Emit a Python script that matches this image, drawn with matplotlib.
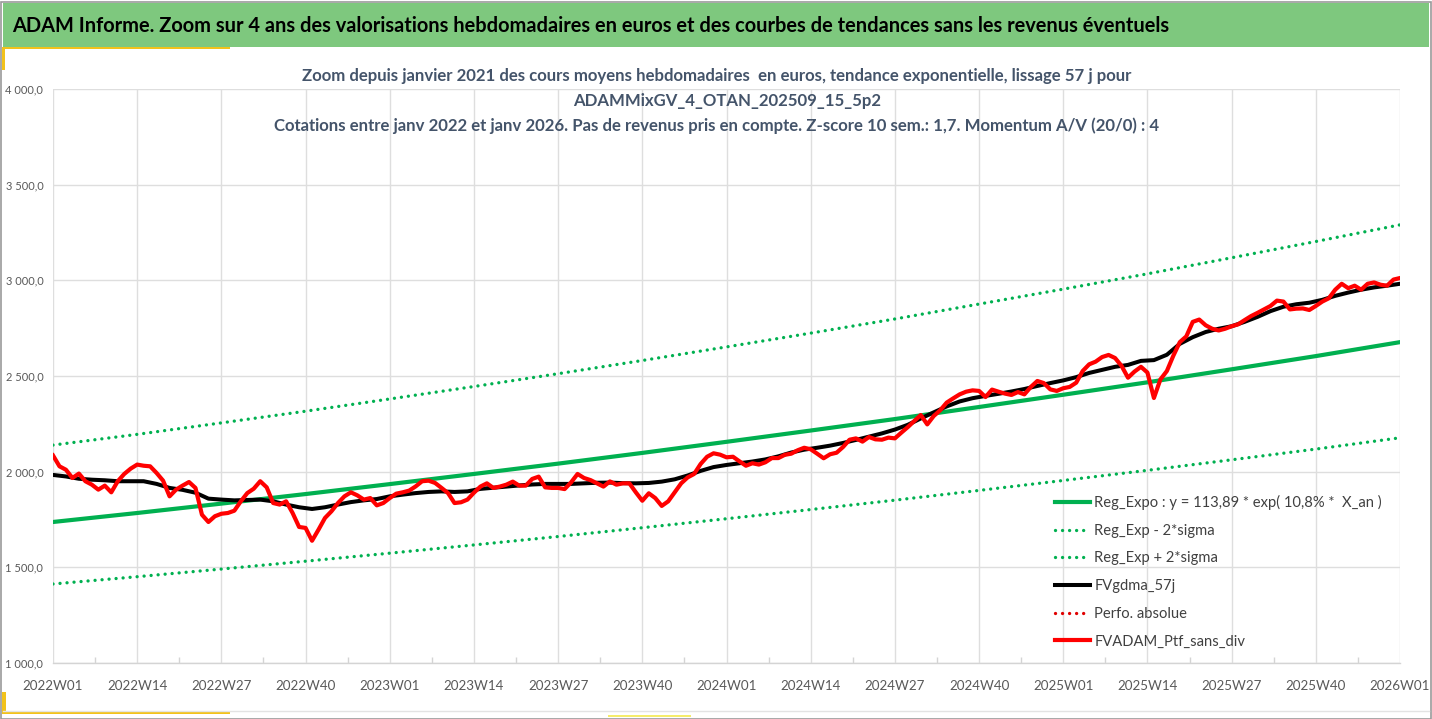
import matplotlib
matplotlib.use("Agg")
import matplotlib.pyplot as plt
from matplotlib.patches import Rectangle
from matplotlib.lines import Line2D
from matplotlib.ticker import FixedLocator, FuncFormatter

plt.rcParams['font.family'] = ['Lato', 'DejaVu Sans']

# [ DATA ]
#=====================================================================
weeks = [f"{2022 + i // 52}W{i % 52 + 1:02d}" for i in range(209)]

# FVADAM_Ptf_sans_div, one value per week (2022W01 .. 2026W01)
ptf_sans_div = [
    2085, 2028, 2010, 1967, 1990, 1950, 1932, 1906, 1927, 1892,
    1950, 1988, 2016, 2037, 2031, 2028, 1993, 1953, 1871, 1906,
    1927, 1946, 1915, 1775, 1737, 1767, 1780, 1784, 1796, 1845,
    1888, 1911, 1950, 1918, 1836, 1828, 1845, 1784, 1711, 1706,
    1639, 1697, 1758, 1793, 1836, 1871, 1892, 1876, 1854, 1862,
    1824, 1836, 1862, 1885, 1892, 1901, 1923, 1950, 1953, 1941,
    1915, 1888, 1836, 1840, 1854, 1890, 1922, 1939, 1915, 1922,
    1932, 1948, 1927, 1927, 1962, 1974, 1918, 1915, 1915, 1909,
    1944, 1988, 1967, 1956, 1939, 1922, 1949, 1932, 1939, 1939,
    1892, 1848, 1887, 1862, 1821, 1845, 1892, 1939, 1970, 1988,
    2040, 2078, 2096, 2089, 2075, 2078, 2054, 2031, 2044, 2037,
    2049, 2071, 2071, 2088, 2094, 2112, 2125, 2117, 2094, 2070,
    2091, 2099, 2129, 2167, 2174, 2157, 2181, 2169, 2167, 2178,
    2174, 2204, 2233, 2265, 2296, 2247, 2291, 2321, 2361, 2383,
    2404, 2418, 2425, 2422, 2390, 2429, 2418, 2408, 2401, 2416,
    2404, 2443, 2474, 2463, 2430, 2422, 2436, 2443, 2465, 2526,
    2561, 2575, 2599, 2610, 2594, 2553, 2491, 2523, 2548, 2518,
    2385, 2482, 2526, 2606, 2677, 2707, 2783, 2795, 2765, 2747,
    2738, 2747, 2760, 2770, 2792, 2813, 2830, 2848, 2866, 2894,
    2889, 2848, 2852, 2853, 2845, 2866, 2889, 2906, 2951, 2982,
    2959, 2972, 2951, 2982, 2989, 2977, 2972, 3004, 3012,
]

# FVgdma_57j, read every second week
gdma_57j = [
    1983, 1975, 1963, 1958, 1955, 1950, 1950, 1950, 1936, 1915,
    1905, 1890, 1859, 1854, 1850, 1852, 1854, 1845, 1828, 1814,
    1805, 1814, 1828, 1841, 1850, 1857, 1871, 1880, 1888, 1894,
    1897, 1894, 1897, 1910, 1916, 1922, 1928, 1933, 1936, 1936,
    1936, 1939, 1942, 1943, 1940, 1939, 1941, 1948, 1960, 1980,
    2004, 2024, 2035, 2044, 2053, 2064, 2080, 2100, 2115, 2125,
    2136, 2150, 2166, 2183, 2200, 2220, 2245, 2278, 2310, 2341,
    2367, 2384, 2396, 2407, 2419, 2432, 2448, 2463, 2477, 2494,
    2516, 2532, 2548, 2558, 2579, 2583, 2611, 2668, 2703, 2730,
    2747, 2760, 2783, 2809, 2839, 2862, 2875, 2883, 2898, 2919,
    2936, 2951, 2963, 2972, 2982,
]

# regression curves, read at every labelled week (every 13 weeks)
reg_expo = [1737, 1784, 1833, 1883, 1935, 1988, 2042, 2098, 2156,
            2215, 2275, 2338, 2402, 2467, 2535, 2604, 2677]
reg_minus = [1413, 1451, 1491, 1532, 1574, 1617, 1661, 1707, 1754,
             1802, 1851, 1902, 1954, 2007, 2062, 2118, 2177]
reg_plus = [2139, 2195, 2255, 2316, 2380, 2445, 2512, 2581, 2652,
            2724, 2798, 2876, 2954, 3034, 3118, 3203, 3290]

x_all = list(range(len(weeks)))
x_gdma = x_all[::2]
x_reg = x_all[::13]

# [ FIGURE ]
#=====================================================================
W, H = 1432, 719
fig = plt.figure(figsize=(W / 100, H / 100), dpi=100)
fig.patch.set_facecolor("white")

# frame + banner
fig.patches.append(Rectangle((0.5 / W, 0.5 / H), 1 - 2 / W, 1 - 2 / H, transform=fig.transFigure,
                             fill=False, edgecolor="#9a9a9a", linewidth=1.2))
fig.patches.append(Rectangle((3 / W, 1 - 47 / H), 1 - 6 / W, 44 / H, transform=fig.transFigure,
                             facecolor="#7ec87e", edgecolor="none"))
fig.patches.append(Rectangle((2 / W, 1 - 49 / H), 228 / W, 2.5 / H, transform=fig.transFigure,
                             facecolor="#f2c21b", edgecolor="none"))
fig.patches.append(Rectangle((2 / W, 1 - 70 / H), 3 / W, 22 / H, transform=fig.transFigure,
                             facecolor="#f2c21b", edgecolor="none"))
fig.patches.append(Rectangle((2 / W, 5 / H), 228 / W, 3 / H, transform=fig.transFigure,
                             facecolor="#f2c21b", edgecolor="none"))
fig.patches.append(Rectangle((2 / W, 5 / H), 4 / W, 22 / H, transform=fig.transFigure,
                             facecolor="#f2c21b", edgecolor="none"))
fig.patches.append(Rectangle((608 / W, 2 / H), 83 / W, 2 / H, transform=fig.transFigure,
                             facecolor="#f5ec6a", edgecolor="none"))
fig.lines.append(Line2D([3 / W, 1 - 3 / W], [8 / H, 8 / H], transform=fig.transFigure,
                        color="#e3e3e3", linewidth=1))

fig.text(12 / W, 1 - 26 / H,
         "ADAM Informe. Zoom sur 4 ans des valorisations hebdomadaires en euros et des courbes de tendances sans les revenus éventuels",
         ha="left", va="center", fontsize=14.4, fontweight="bold", color="black")

sub_color = "#44546a"
fig.text(717 / W, 1 - 76 / H,
         "Zoom depuis janvier 2021 des cours moyens hebdomadaires  en euros, tendance exponentielle, lissage 57 j pour",
         ha="center", va="center", fontsize=12.1, fontweight="bold", color=sub_color)
fig.text(727 / W, 1 - 101 / H, "ADAMMixGV_4_OTAN_202509_15_5p2",
         ha="center", va="center", fontsize=12.1, fontweight="bold", color=sub_color)
fig.text(717 / W, 1 - 126 / H,
         "Cotations entre janv 2022 et janv 2026. Pas de revenus pris en compte. Z-score 10 sem.: 1,7. Momentum A/V (20/0) : 4",
         ha="center", va="center", fontsize=12.1, fontweight="bold", color=sub_color)

# [ AXES ]
#=====================================================================
ax = fig.add_axes([53 / W, 1 - 663 / H, (1400 - 53) / W, (663 - 89) / H])
ax.set_facecolor("none")

green = "#00b050"
ax.plot(x_reg, reg_expo, color=green, linewidth=3.0, label="Reg_Expo : y = 113,89 * exp( 10,8% *  X_an )")
ax.plot(x_reg, reg_minus, color=green, linewidth=2.4, linestyle=(0, (0.01, 2.1)),
        dash_capstyle="round", label="Reg_Exp - 2*sigma")
ax.plot(x_reg, reg_plus, color=green, linewidth=2.4, linestyle=(0, (0.01, 2.1)),
        dash_capstyle="round", label="Reg_Exp + 2*sigma")
ax.plot(x_gdma, gdma_57j, color="black", linewidth=2.9, label="FVgdma_57j")
ax.plot([], [], color="#e00000", linewidth=2.4, linestyle=(0, (0.01, 2.1)),
        dash_capstyle="round", label="Perfo. absolue")
ax.plot(x_all, ptf_sans_div, color="#ff0000", linewidth=3.0, label="FVADAM_Ptf_sans_div")

ax.set_xlim(0, len(weeks) - 1)
ax.set_ylim(1000, 4000)

major_x = x_all[::13]
ax.xaxis.set_major_locator(FixedLocator(major_x))
ax.set_xticklabels([weeks[i] for i in major_x])
ax.xaxis.set_minor_locator(FixedLocator([i + 6.5 for i in major_x[:-1]]))
ax.set_yticks([1000, 1500, 2000, 2500, 3000, 3500, 4000])
ax.yaxis.set_major_formatter(FuncFormatter(lambda v, p: f"{v:,.1f}".replace(",", " ").replace(".", ",")))

ax.grid(True, which="major", color="#dedede", linewidth=1.0)
ax.set_axisbelow(True)
for side in ["top", "right", "left"]:
    ax.spines[side].set_visible(False)
ax.spines["bottom"].set_color("#d4d4d4")
ax.spines["bottom"].set_linewidth(1.0)

ax.tick_params(axis="x", which="major", length=0, pad=12, labelsize=9.6, labelcolor="#595959")
ax.tick_params(axis="x", which="minor", direction="in", length=4, width=1, color="#d4d4d4")
ax.tick_params(axis="y", which="major", length=0, pad=7, labelsize=8, labelcolor="#595959")

leg = ax.legend(loc="upper left", bbox_to_anchor=(1055 / W, 1 - 495 / H), bbox_transform=fig.transFigure,
                frameon=False, fontsize=10.6, borderpad=0, borderaxespad=0,
                handlelength=2.35, handletextpad=0.33, labelspacing=0.93)
for t in leg.get_texts():
    t.set_color("#404040")

fig.savefig("out.png", dpi=100)
